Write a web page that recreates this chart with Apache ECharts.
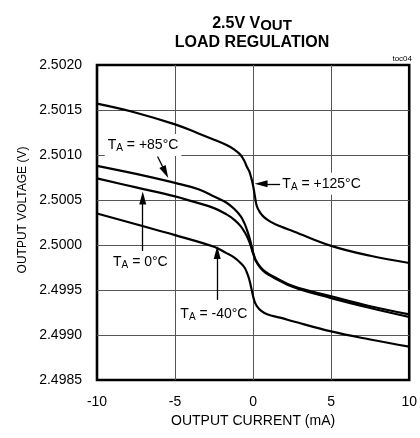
<!DOCTYPE html>
<html>
<head>
<meta charset="utf-8">
<script src="https://cdn.jsdelivr.net/npm/echarts@6/dist/echarts.min.js"></script>
<style>
html, body { margin: 0; padding: 0; background: #fff; }
#c { width: 420px; height: 438px; }
</style>
</head>
<body>
<div id="c"></div>
<script>
// ---- data ----
const xTicks = [-10, -5, 0, 5, 10];
const yTicks = [2.4985, 2.4990, 2.4995, 2.5000, 2.5005, 2.5010, 2.5015, 2.5020];

const x125 = [-10, -7.5, -5, -3.5, -2.5, -1.7, -1.2, -0.8, -0.55, -0.4, -0.25, -0.14, -0.05, 0.03, 0.1, 0.24, 0.45, 0.7, 1.1, 1.7, 2.6, 5, 7.5, 10];
const y125 = [2.50157, 2.50147, 2.50134, 2.50124, 2.50117, 2.50111, 2.50106, 2.50100, 2.50093, 2.50087, 2.50082, 2.50076, 2.50070, 2.50063, 2.50056, 2.50043, 2.50036, 2.50031, 2.50026, 2.50021, 2.50015, 2.49999, 2.49988, 2.49980];

const x85 = [-10, -7.5, -5, -3.5, -2.5, -1.7, -1.2, -0.8, -0.55, -0.4, -0.25, -0.14, -0.05, 0.05, 0.15, 0.45, 0.8, 1.3, 2.6, 5, 7.5, 10];
const y85 = [2.50088, 2.50079, 2.50069, 2.50062, 2.50054, 2.50047, 2.50040, 2.50032, 2.50024, 2.50017, 2.50009, 2.50002, 2.49995, 2.49989, 2.49984, 2.49976, 2.49970, 2.49965, 2.49954, 2.49943, 2.49932, 2.49923];

const x0 = [-10, -7.5, -5, -4, -2.5, -1.7, -1.2, -0.8, -0.5, -0.3, -0.15, -0.05, 0.05, 0.15, 0.45, 0.8, 1.3, 2.6, 5, 7.5, 10];
const y0 = [2.50074, 2.50064, 2.50054, 2.50049, 2.50041, 2.50034, 2.50028, 2.50021, 2.50013, 2.50006, 2.49999, 2.49993, 2.49988, 2.49983, 2.49975, 2.49969, 2.49964, 2.49953, 2.49941, 2.49930, 2.49920];

const xm40 = [-10, -7.5, -5, -2.5, -1.7, -1.2, -0.8, -0.55, -0.39, -0.25, -0.14, -0.05, 0.03, 0.12, 0.24, 0.5, 0.9, 1.8, 2.6, 5, 7.5, 10];
const ym40 = [2.50035, 2.50023, 2.50011, 2.49998, 2.49991, 2.49986, 2.49980, 2.49975, 2.49969, 2.49962, 2.49954, 2.49947, 2.49941, 2.49936, 2.49932, 2.49927, 2.49923, 2.49919, 2.49915, 2.49904, 2.49895, 2.49887];

const seriesNames = ['+125°C', '+85°C', '0°C', '-40°C'];

// annotation labels: [temperature text, label anchor x, label anchor y, anchor side]
const labelTexts = ['+85°C', '+125°C', '0°C', '-40°C'];
const labelX = [-7.05, 1.81, -7.22, -2.51];
const labelY = [2.50111, 2.50068, 2.49981, 2.49923];
const labelSide = ['inside', 'right', 'inside', 'inside'];

// arrows: tail -> head
const arrowFromX = [-6.12, 1.73, -7.07, -2.30];
const arrowFromY = [2.500984, 2.50068, 2.49993, 2.49939];
const arrowToX = [-5.62, 0.51, -7.07, -2.30];
const arrowToY = [2.500808, 2.50068, 2.500522, 2.499918];

// ---- chart ----
const FONT = '"Liberation Sans", Arial, Helvetica, sans-serif';
const pairs = (xs, ys) => xs.map((x, i) => [x, ys[i]]);

function curve(name, xs, ys) {
  return {
    name: name, type: 'line', data: pairs(xs, ys),
    symbol: 'none', showSymbol: false,
    smooth: 0.4,
    lineStyle: { color: '#000', width: 2.2 },
    silent: true, z: 3
  };
}

const labelRich = {
  t: { fontFamily: FONT, fontSize: 14, color: '#000', lineHeight: 16 },
  s: { fontFamily: FONT, fontSize: 10, color: '#000', lineHeight: 6, verticalAlign: 'bottom' }
};

const markPointData = labelTexts.map((txt, i) => ({
  coord: [labelX[i], labelY[i]],
  symbolSize: 0,
  label: {
    show: true,
    position: labelSide[i],
    distance: 0,
    formatter: '{t|T}{s|A}{t| = ' + txt + '}',
    backgroundColor: '#fff',
    padding: labelSide[i] === 'right' ? [3, 3, 3, 1] : [3, 3, 3, 3],
    rich: labelRich
  }
}));

const markLineData = arrowFromX.map((x, i) => [
  { coord: [x, arrowFromY[i]] },
  { coord: [arrowToX[i], arrowToY[i]] }
]);

const chart = echarts.init(document.getElementById('c'), null, { renderer: 'canvas' });

chart.setOption({
  animation: false,
  backgroundColor: '#fff',
  textStyle: { fontFamily: FONT },
  grid: {
    left: 97, right: 8.5, top: 65, bottom: 58,
    show: true, borderColor: '#000', borderWidth: 2.6, backgroundColor: 'transparent'
  },
  xAxis: {
    type: 'value', min: xTicks[0], max: xTicks[xTicks.length - 1], interval: 5,
    axisLine: { show: false }, axisTick: { show: false },
    splitLine: { show: true, showMinLine: false, showMaxLine: false, lineStyle: { color: '#555', width: 1 } },
    axisLabel: { color: '#000', fontSize: 14, fontFamily: FONT, margin: 15 },
    name: 'OUTPUT CURRENT (mA)', nameLocation: 'middle', nameGap: 34,
    nameTextStyle: { color: '#000', fontSize: 14, fontFamily: FONT }
  },
  yAxis: {
    type: 'value', min: yTicks[0], max: yTicks[yTicks.length - 1], interval: 0.0005,
    axisLine: { show: false }, axisTick: { show: false },
    splitLine: { show: true, showMinLine: false, showMaxLine: false, lineStyle: { color: '#555', width: 1 } },
    axisLabel: { color: '#000', fontSize: 14, fontFamily: FONT, margin: 15, formatter: v => v.toFixed(4) },
    name: 'OUTPUT VOLTAGE (V)', nameLocation: 'middle', nameGap: 66, nameRotate: 90,
    nameTextStyle: { color: '#000', fontSize: 12, fontFamily: FONT, padding: [0, 0, 0, 25] }
  },
  graphic: [
    {
      type: 'text', x: 252, y: 24, silent: true,
      style: {
        text: '{a|2.5V V}{b|OUT}', align: 'center', verticalAlign: 'middle',
        rich: {
          a: { fontFamily: FONT, fontSize: 16, fontWeight: 'bold', fill: '#000', color: '#000', lineHeight: 18 },
          b: { fontFamily: FONT, fontSize: 15, fontWeight: 'bold', fill: '#000', color: '#000', lineHeight: 9, verticalAlign: 'bottom' }
        }
      }
    },
    {
      type: 'text', x: 252, y: 42.5, silent: true,
      style: { text: 'LOAD REGULATION', align: 'center', verticalAlign: 'middle',
        font: 'bold 16px ' + FONT, fill: '#000' }
    },
    {
      type: 'text', x: 412, y: 59, silent: true,
      style: { text: 'toc04', align: 'right', verticalAlign: 'middle',
        font: '8px ' + FONT, fill: '#000' }
    }
  ],
  series: [
    curve(seriesNames[0], x125, y125),
    curve(seriesNames[1], x85, y85),
    curve(seriesNames[2], x0, y0),
    curve(seriesNames[3], xm40, ym40),
    {
      name: 'annotations', type: 'line', data: [], z: 5, silent: true,
      markPoint: { silent: true, symbol: 'rect', symbolSize: 0, data: markPointData, animation: false },
      markLine: {
        silent: true, animation: false,
        symbol: ['none', 'triangle'], symbolSize: [7, 13],
        label: { show: false },
        lineStyle: { color: '#000', width: 1.3, type: 'solid' },
        emphasis: { disabled: true },
        data: markLineData
      }
    }
  ]
});
</script>
</body>
</html>
